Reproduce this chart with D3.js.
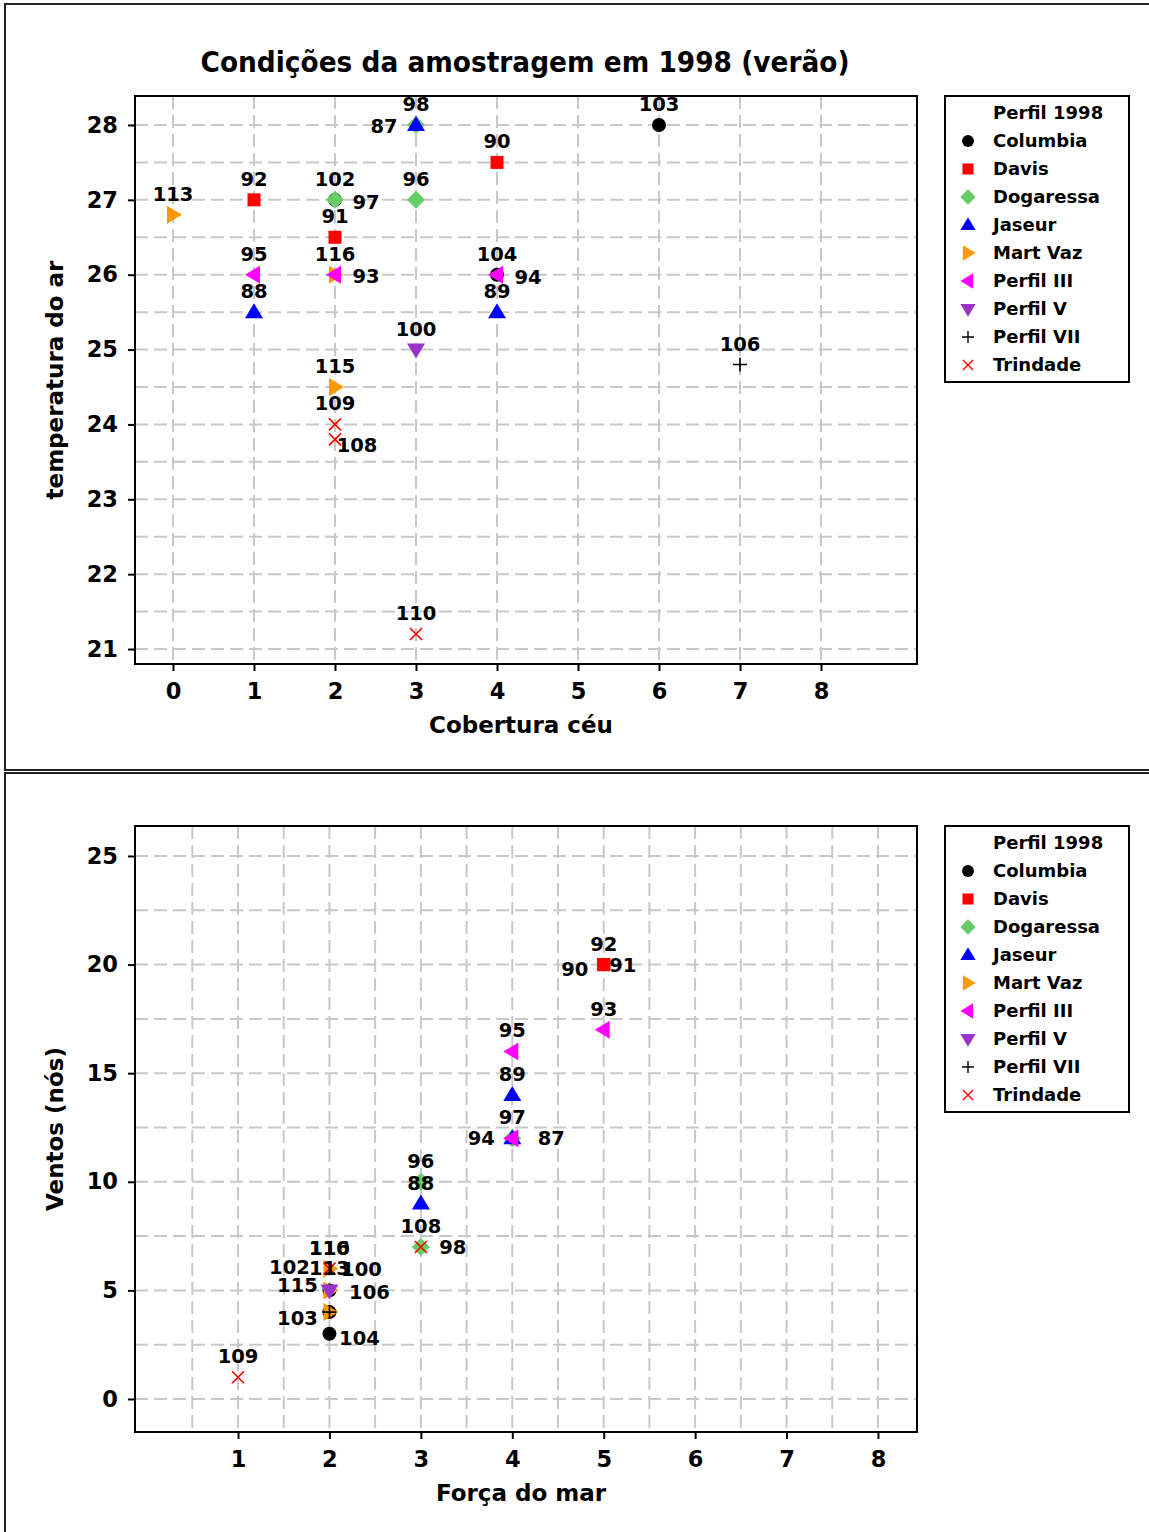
<!DOCTYPE html>
<html>
<head>
<meta charset="utf-8">
<script src="https://d3js.org/d3.v7.min.js"></script>
<style>
    body { margin: 0; background: #fff; }
    svg text { font-family: "DejaVu Sans", Verdana, sans-serif; font-weight: bold; fill: #000; }
    .grid line { stroke: #c8c8c8; stroke-width: 2; stroke-dasharray: 13,6; }
    .axis path, .axis line { stroke: #000; stroke-width: 2; }
    .axis text { font-size: 22.5px; }
</style>
</head>
<body>
<svg id="chart" width="1149" height="1532"></svg>
<script>
// groups (legend order = drawing order)
var perfis = ["Columbia", "Davis", "Dogaressa", "Jaseur", "Mart Vaz", "Perfil III", "Perfil V", "Perfil VII", "Trindade"];
var cores = ["#000000", "#ff0000", "#66cc66", "#0000ff", "#ff9900", "#ff00ff", "#9933cc", "#000000", "#ff0000"];
var formas = ["circle", "square", "diamond", "up", "right", "left", "down", "plus", "cross"];

// samples 1998
var amostra   = [87, 88, 89, 90, 91, 92, 93, 94, 95, 96, 97, 98, 100, 102, 103, 104, 106, 108, 109, 110, 113, 115, 116];
var perfil    = ["Jaseur", "Jaseur", "Jaseur", "Davis", "Davis", "Davis", "Perfil III", "Perfil III", "Perfil III",
                 "Dogaressa", "Dogaressa", "Dogaressa", "Perfil V", "Columbia", "Columbia", "Columbia", "Perfil VII",
                 "Trindade", "Trindade", "Trindade", "Mart Vaz", "Mart Vaz", "Mart Vaz"];
var coberturaCeu  = [3, 1, 4, 4, 2, 1, 2, 4, 1, 3, 2, 3, 3, 2, 6, 4, 7, 2, 2, 3, 0, 2, 2];
var temperaturaAr = [28, 25.5, 25.5, 27.5, 26.5, 27, 26, 26, 26, 27, 27, 28, 25, 27, 28, 26, 24.8, 23.8, 24, 21.2, 26.8, 24.5, 26];
var forcaMar      = [4, 3, 4, 5, 5, 5, 5, 4, 4, 3, 4, 3, 2, 2, 2, 2, 2, 3, 1, 2, 2, 2, 2];
var ventos        = [12, 9, 14, 20, 20, 20, 17, 12, 16, 10, 12, 7, 5, 5, 4, 3, 4, 7, 1, 6, 4, 5, 6];

// tick labels
var ticksCobertura   = [0, 1, 2, 3, 4, 5, 6, 7, 8];
var ticksTemperatura = [21, 22, 23, 24, 25, 26, 27, 28];
var ticksForca       = [1, 2, 3, 4, 5, 6, 7, 8];
var ticksVentos      = [0, 5, 10, 15, 20, 25];

var titulo = "Condições da amostragem em 1998 (verão)";
var tituloLegenda = "Perfil 1998";

// label placement (centre offset in px from the marker), default is above
var rotuloTopo  = { 97: [31, 2], 87: [-32, 1], 93: [31, 1], 94: [31, 2], 108: [22, 6] };
var rotuloBaixo = { 90: [-29, 4], 91: [19, 0], 94: [-31, 0], 87: [39, 0], 98: [32, 0], 113: [0, -44],
                    102: [-40, -23], 115: [-32, -5], 100: [32, -21], 106: [40, -20], 103: [-32, 6], 104: [30, 4] };

var svg = d3.select("#chart");

// marker path for a shape name
function marker(forma) {
    switch (forma) {
        case "circle":  return "M7,0A7,7 0 1,1 -7,0A7,7 0 1,1 7,0Z";
        case "square":  return "M-6.5,-6.5H6.5V6.5H-6.5Z";
        case "diamond": return "M0,-9L9,0L0,9L-9,0Z";
        case "up":      return "M0,-9L9,6L-9,6Z";
        case "down":    return "M0,9L9,-6L-9,-6Z";
        case "right":   return "M9,0L-6,-9L-6,9Z";
        case "left":    return "M-9,0L6,-9L6,9Z";
        case "plus":    return "M-7,0H7M0,-7V7";
        case "cross":   return "M-6,-6L6,6M-6,6L6,-6";
    }
}

function drawMarker(g, forma, cor) {
    var p = g.append("path").attr("d", marker(forma));
    if (forma == "plus" || forma == "cross") {
        p.attr("fill", "none").attr("stroke", cor).attr("stroke-width", 1.6);
    } else {
        p.attr("fill", cor);
    }
    return p;
}

function drawPanel(cfg) {
    var x = d3.scaleLinear().domain(cfg.xDomain).range([135, 917]);
    var y = d3.scaleLinear().domain(cfg.yDomain).range([cfg.bottom, cfg.top]);
    var g = svg.append("g");

    // panel frame
    g.append("rect")
        .attr("x", 5).attr("y", cfg.frameTop)
        .attr("width", 1200).attr("height", cfg.frameHeight)
        .attr("fill", "none").attr("stroke", "#222").attr("stroke-width", 2);

    // gridlines
    var grid = g.append("g").attr("class", "grid");
    grid.selectAll("line.v").data(cfg.gridX).enter().append("line")
        .attr("x1", function(d) { return x(d); }).attr("x2", function(d) { return x(d); })
        .attr("y1", cfg.top).attr("y2", cfg.bottom);
    grid.selectAll("line.h").data(cfg.gridY).enter().append("line")
        .attr("x1", 135).attr("x2", 917)
        .attr("y1", function(d) { return y(d); }).attr("y2", function(d) { return y(d); });

    // axes
    g.append("g").attr("class", "axis")
        .attr("transform", "translate(0," + cfg.bottom + ")")
        .call(d3.axisBottom(x).tickValues(cfg.ticksX).tickFormat(d3.format("d")).tickSizeInner(7).tickSizeOuter(0).tickPadding(12))
        .select(".domain").remove();
    g.append("g").attr("class", "axis")
        .attr("transform", "translate(135,0)")
        .call(d3.axisLeft(y).tickValues(cfg.ticksY).tickFormat(d3.format("d")).tickSizeInner(7).tickSizeOuter(0).tickPadding(10))
        .select(".domain").remove();

    g.append("rect")
        .attr("x", 135).attr("y", cfg.top)
        .attr("width", 782).attr("height", cfg.bottom - cfg.top)
        .attr("fill", "none").attr("stroke", "#000").attr("stroke-width", 2);

    // axis titles
    g.append("text")
        .attr("x", 521).attr("y", cfg.bottom + 69)
        .attr("text-anchor", "middle").style("font-size", "23px")
        .text(cfg.xTitle);
    g.append("text")
        .attr("transform", "translate(63," + ((cfg.top + cfg.bottom) / 2) + ") rotate(-90)")
        .attr("text-anchor", "middle").style("font-size", "23px")
        .text(cfg.yTitle);

    // points, drawn group by group
    var pts = amostra.map(function(id, i) {
        return { id: id, perfil: perfil[i], x: cfg.xs[i], y: cfg.ys[i] };
    });
    var marks = g.append("g");
    perfis.forEach(function(p, k) {
        pts.filter(function(d) { return d.perfil == p; }).forEach(function(d) {
            var m = marks.append("g").attr("transform", "translate(" + x(d.x) + "," + y(d.y) + ")");
            drawMarker(m, formas[k], cores[k]);
        });
    });

    // labels on top
    g.append("g").selectAll("text").data(pts).enter().append("text")
        .attr("x", function(d) { var o = cfg.rotulos[d.id] || [0, -21]; return x(d.x) + o[0]; })
        .attr("y", function(d) { var o = cfg.rotulos[d.id] || [0, -21]; return y(d.y) + o[1]; })
        .attr("dy", "0.36em")
        .attr("text-anchor", "middle")
        .style("font-size", "19.5px")
        .text(function(d) { return d.id; });

    // legend
    var lg = g.append("g").attr("transform", "translate(945," + cfg.top + ")");
    lg.append("rect").attr("width", 184).attr("height", 286)
        .attr("fill", "#fff").attr("stroke", "#000").attr("stroke-width", 2);
    lg.append("text").attr("x", 48).attr("y", 17).attr("dy", "0.36em")
        .style("font-size", "18px").text(tituloLegenda);
    perfis.forEach(function(p, k) {
        var row = lg.append("g").attr("transform", "translate(0," + (45 + k * 28) + ")");
        var m = row.append("g").attr("transform", "translate(23,0) scale(0.85)");
        drawMarker(m, formas[k], cores[k]);
        row.append("text").attr("x", 48).attr("dy", "0.36em")
            .style("font-size", "18px").text(p);
    });
}

// title
svg.append("text")
    .attr("x", 525).attr("y", 72)
    .attr("text-anchor", "middle")
    .attr("textLength", 649).attr("lengthAdjust", "spacingAndGlyphs")
    .style("font-size", "28px")
    .text(titulo);

drawPanel({
    frameTop: 4, frameHeight: 766,
    top: 96, bottom: 664,
    xDomain: [-0.469, 9.185], yDomain: [20.8, 28.387],
    gridX: d3.range(0, 8.01, 1), gridY: d3.range(21, 28.01, 0.5),
    ticksX: ticksCobertura, ticksY: ticksTemperatura,
    xTitle: "Cobertura céu", yTitle: "temperatura do ar",
    xs: coberturaCeu, ys: temperaturaAr, rotulos: rotuloTopo
});

drawPanel({
    frameTop: 773, frameHeight: 800,
    top: 826, bottom: 1432,
    xDomain: [-0.127, 8.427], yDomain: [-1.52, 26.38],
    gridX: d3.range(0.5, 8.01, 0.5), gridY: d3.range(0, 25.01, 2.5),
    ticksX: ticksForca, ticksY: ticksVentos,
    xTitle: "Força do mar", yTitle: "Ventos (nós)",
    xs: forcaMar, ys: ventos, rotulos: rotuloBaixo
});
</script>
</body>
</html>
